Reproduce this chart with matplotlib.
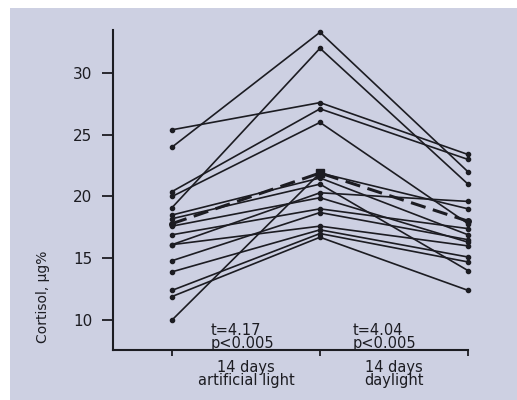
import matplotlib
matplotlib.use("Agg")
import matplotlib.pyplot as plt
from matplotlib.patches import Rectangle

# ---- data (cortisol, ug%) ----
conditions = ["14 days\nartificial light", "14 days\ndaylight"]
x_positions = [0, 1, 2]

# subjects: value at start, after 14 days artificial light, after 14 days daylight
start_vals = [25.4, 24.0, 20.4, 20.0, 19.1, 18.5, 18.2, 17.6, 16.9, 16.1, 16.1,
              14.8, 13.9, 12.4, 11.9, 10.0]
artificial_vals = [27.6, 33.3, 27.1, 26.0, 32.0, 21.5, 21.0, 19.9, 19.0, 20.3, 17.6,
                   18.7, 17.3, 17.0, 16.7, 21.9]
daylight_vals = [23.4, 22.0, 23.0, 17.8, 21.0, 16.9, 14.0, 16.3, 17.4, 19.6, 16.0,
                 16.5, 15.1, 14.7, 12.4, 19.0]

mean_vals = [17.8, 21.9, 18.0]

stats_t = ["t=4.17", "t=4.04"]
stats_p = ["p<0.005", "p<0.005"]
yticks = [10, 15, 20, 25, 30]
ylabel = "Cortisol, µg%"

ink = "#1c1c22"
bg = "#cdd0e2"

fig = plt.figure(figsize=(5.17, 4.0), dpi=100)
fig.patch.set_facecolor("white")
fig.patches.append(Rectangle((10 / 517, 0), 1, 392 / 400, transform=fig.transFigure,
                             facecolor=bg, edgecolor="none", zorder=-10))

ax = fig.add_axes([113 / 517, 50 / 400, (468 - 113) / 517, 320 / 400])
ax.set_facecolor("none")

for a, b, c in zip(start_vals, artificial_vals, daylight_vals):
    ax.plot(x_positions, [a, b, c], color=ink, lw=1.2, marker="o", ms=3,
            clip_on=False, zorder=3)

ax.plot(x_positions, mean_vals, color=ink, lw=2.2, ls=(0, (5, 2.5)), marker="o",
        ms=4, clip_on=False, zorder=4)
ax.plot([x_positions[1]], [mean_vals[1]], color=ink, marker="s", ms=6,
        clip_on=False, zorder=5)

ax.set_xlim(-0.399, 2.0)
ax.set_ylim(7.57, 33.48)

for s in ["top", "right"]:
    ax.spines[s].set_visible(False)
ax.spines["left"].set_color(ink)
ax.spines["bottom"].set_color(ink)
ax.spines["left"].set_linewidth(1.5)
ax.spines["bottom"].set_linewidth(1.5)

ax.set_yticks(yticks)
ax.set_yticklabels([str(v) for v in yticks], fontsize=11, color=ink)
ax.tick_params(axis="y", direction="out", length=8, width=1.3, pad=7, colors=ink)
ax.set_xticks(x_positions)
ax.set_xticklabels([])
ax.tick_params(axis="x", direction="out", length=4, width=1.3, colors=ink)

# condition labels between ticks
for i, lab in enumerate(conditions):
    ax.text(i + 0.5, 5.63, lab, ha="center", va="center", fontsize=10.5,
            linespacing=0.8, multialignment="center", color=ink, clip_on=False)

# statistics above axis
stat_x = [0.264, 1.223]
for xs, t, p in zip(stat_x, stats_t, stats_p):
    ax.text(xs, 8.62, t + "\n" + p, ha="left", va="center", fontsize=10.5,
            linespacing=0.8, color=ink)

fig.text(43 / 517, 1 - 297 / 400, ylabel, rotation=90, ha="center", va="center",
         fontsize=10, color=ink)

fig.savefig("out.png", dpi=100)
